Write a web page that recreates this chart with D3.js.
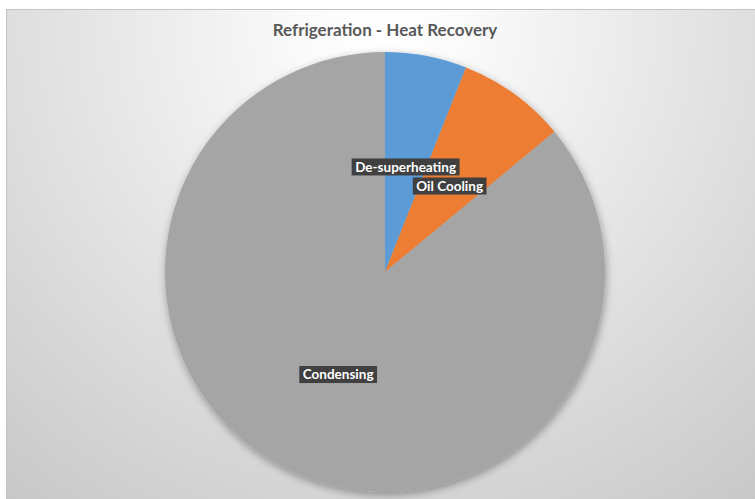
<!DOCTYPE html>
<html>
<head>
<meta charset="utf-8">
<script src="https://cdn.jsdelivr.net/npm/d3@7"></script>
<style>
  html, body { margin: 0; padding: 0; background: #fff; }
  svg { display: block; }
</style>
</head>
<body>
<svg id="chart" width="755" height="499"></svg>
<script>
// data
const categories = ['De-superheating', 'Oil Cooling', 'Condensing'];
const values = [6, 8, 86];
const sliceColors = ['#5b9bd5', '#ed7d31', '#a5a5a5'];
const title = 'Refrigeration - Heat Recovery';

const width = 755;
const height = 499;
const cx = 385;
const cy = 272;
const radius = 220;

const svg = d3.select('#chart');
const defs = svg.append('defs');

// background radial gradient, lightest near the title
const bg = defs.append('radialGradient')
    .attr('id', 'bg')
    .attr('gradientUnits', 'userSpaceOnUse')
    .attr('cx', 385).attr('cy', 30).attr('r', 620);
bg.append('stop').attr('offset', '0').attr('stop-color', '#ffffff');
bg.append('stop').attr('offset', '0.12').attr('stop-color', '#fbfbfb');
bg.append('stop').attr('offset', '1').attr('stop-color', '#c6c6c6');

const shadow = defs.append('filter')
    .attr('id', 'shadow')
    .attr('x', '-20%').attr('y', '-20%')
    .attr('width', '140%').attr('height', '140%');
shadow.append('feDropShadow')
    .attr('dx', 1).attr('dy', 3)
    .attr('stdDeviation', 4)
    .attr('flood-color', '#000')
    .attr('flood-opacity', 0.35);

svg.append('rect')
    .attr('x', 6.5).attr('y', 9.5)
    .attr('width', width).attr('height', height)
    .attr('fill', 'url(#bg)')
    .attr('stroke', '#c4c4c4');

// Title
svg.append('text')
    .attr('x', cx)
    .attr('y', 36)
    .attr('text-anchor', 'middle')
    .attr('font-family', 'Lato, "Open Sans", sans-serif')
    .attr('font-weight', 'bold')
    .attr('font-size', 17)
    .attr('fill', '#595959')
    .text(title);

// Pie
const data = categories.map((c, i) => ({ label: c, value: values[i], color: sliceColors[i] }));
const createPie = d3.pie().value(d => d.value).sort(null);
const pieData = createPie(data);

const arc = d3.arc().innerRadius(0).outerRadius(radius);
const labelArc = d3.arc().innerRadius(radius * 0.5).outerRadius(radius * 0.5);

const g = svg.append('g').attr('transform', `translate(${cx} ${cy})`);

g.append('g')
    .attr('filter', 'url(#shadow)')
    .selectAll('path')
    .data(pieData)
    .enter()
    .append('path')
    .attr('d', arc)
    .attr('fill', d => d.data.color);

// Data labels: dark boxes with white text
const labels = g.selectAll('.label')
    .data(pieData)
    .enter()
    .append('g')
    .attr('class', 'label')
    .attr('transform', d => {
        const [x, y] = labelArc.centroid(d);
        return `translate(${x} ${y + 3})`;
    });

labels.each(function(d) {
    const lg = d3.select(this);
    const box = lg.append('rect').attr('fill', '#404040');
    const t = lg.append('text')
        .attr('text-anchor', 'middle')
        .attr('dy', '0.35em')
        .attr('font-family', 'Lato, "Open Sans", sans-serif')
        .attr('font-weight', 'bold')
        .attr('font-size', 13.5)
        .attr('fill', '#ffffff')
        .text(d.data.label);
    const bb = t.node().getBBox();
    box.attr('x', bb.x - 3.5)
        .attr('y', -8.5)
        .attr('width', bb.width + 7)
        .attr('height', 17);
});
</script>
</body>
</html>
